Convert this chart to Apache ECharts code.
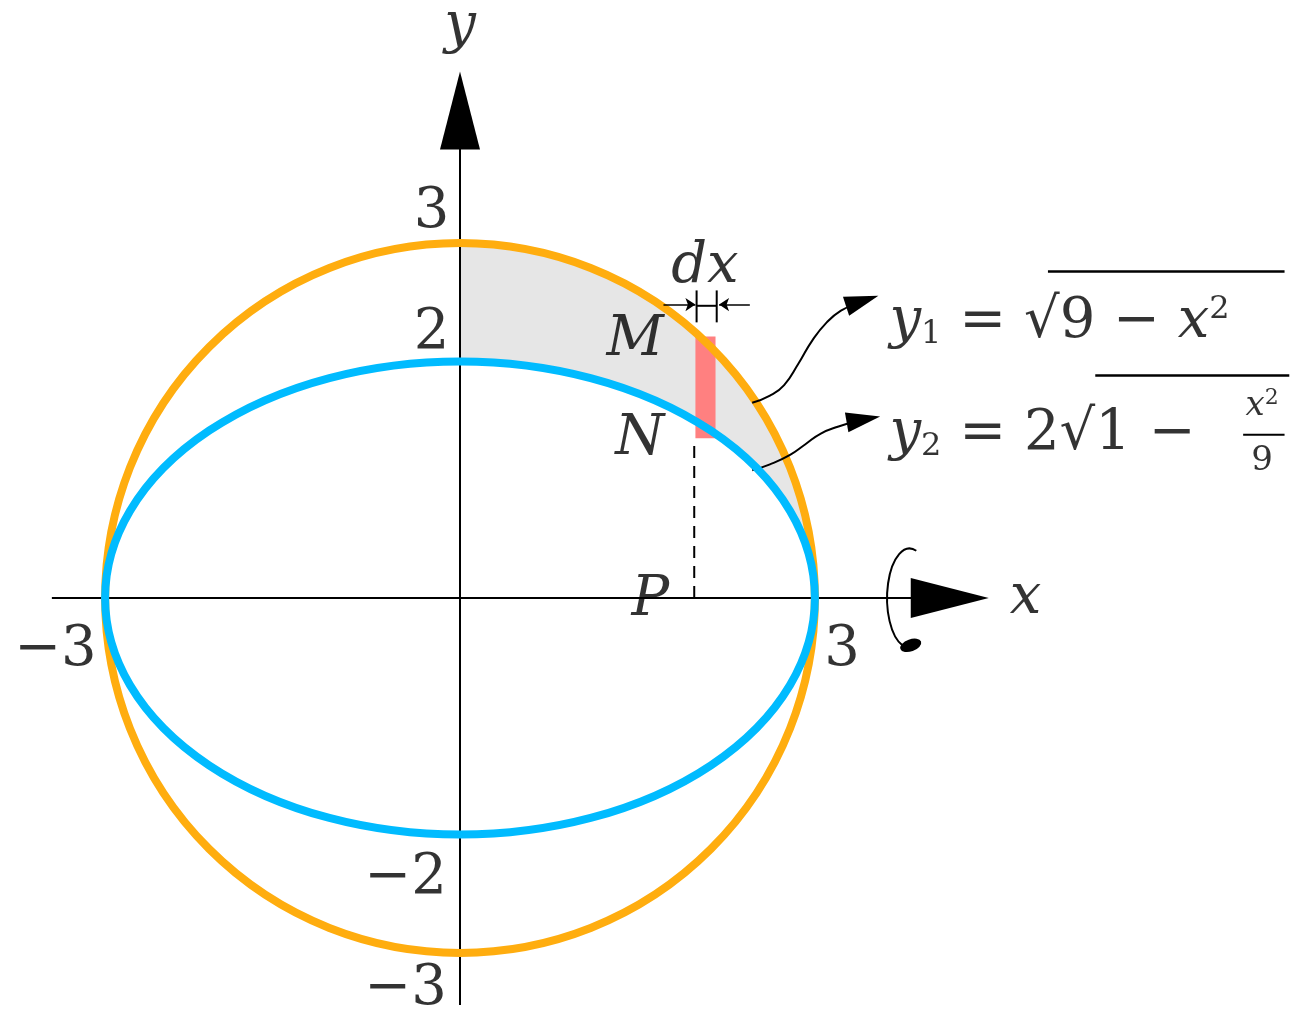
<!DOCTYPE html>
<html>
<head>
<meta charset="utf-8">
<script src="https://cdn.jsdelivr.net/npm/echarts@6/dist/echarts.min.js"></script>
<style>html,body{margin:0;padding:0;background:#fff}#main{width:1299px;height:1023px}</style>
</head>
<body>
<div id="main"></div>
<script>
"use strict";

// 曲线: [中心x, 中心y, 半轴a, 半轴b]
var circleY1 = [[0, 0, 3, 3]];
var ellipseY2 = [[0, 0, 3, 2]];
var rotArc = [[3.8, 0, 0.19, 0.42]];
// 阴影区 x 0..3
var shadeArea = [[0, 0, 3, 3, 2]];
// 微元条 [x1, yTop, x2, yBottom]
var stripBar = [[1.99, 2.21, 2.16, 1.35]];
// 线段 [x1,y1,x2,y2,线宽,虚线]
var segList = [
  [-3.45, 0, 4.0, 0, 2, 0],
  [0, -3.44, 0, 3.8, 2, 0],
  [1.98, 0, 1.98, 1.35, 2, 1],
  [2.0, 2.6, 2.0, 2.33, 2, 0],
  [2.17, 2.6, 2.17, 2.33, 2, 0],
  [2.0, 2.47, 2.17, 2.47, 2, 0]
];
var dxArrows = [
  [[1.72, 2.48], [1.99, 2.48]],
  [[2.45, 2.48], [2.19, 2.48]]
];
var pointer1 = [[2.47, 1.65], [2.62, 1.71], [2.74, 1.8], [2.86, 1.98], [2.98, 2.18], [3.1, 2.33], [3.22, 2.43], [3.34, 2.48]];
var pointer2 = [[2.47, 1.08], [2.62, 1.13], [2.79, 1.21], [2.92, 1.3], [3.05, 1.39], [3.2, 1.45], [3.34, 1.49]];
// 箭头 [x, y, 旋转, 宽, 高]
var arrowHeads = [[0, 4.12, 0, 40, 78], [4.14, 0, -90, 40, 78], [3.4, 2.51, -72, 20, 34], [3.41, 1.51, -80, 20, 34]];
// 文字标签 [x, y, 文本, 斜体]
var textLabels = [
  [-0.24, 3.26, "3", 0], [-0.24, 2.24, "2", 0],
  [-0.46, -2.37, "−2", 0], [-0.46, -3.31, "−3", 0],
  [-3.42, -0.44, "−3", 0], [3.23, -0.44, "3", 0],
  [0, 4.82, "y", 1], [4.78, 0, "x", 1],
  [2.07, 2.79, "dx", 1], [1.48, 2.18, "M", 1],
  [1.52, 1.34, "N", 1], [1.61, -0.02, "P", 1]
];
var formulaLabels = [[3.63, 2.33, "{i|y}{s|1}{n| = √9 − }{i|x}{p|2}"], [3.63, 1.38, "{i|y}{s|2}{n| = 2√1 − }"]];
var fracLabels = [[6.78, 1.62, "{i|x}{p|2}"], [6.78, 1.16, "{n|9}"]];
var overLines = [[4.97, 2.76, 6.97, 2.76, 2.5, 0], [5.37, 1.88, 7.01, 1.88, 2.5, 0], [6.62, 1.38, 6.97, 1.38, 2, 0]];

var k = 118.3;
var SERIF = "DejaVu Serif";

function ellipseRender(color, width) {
  return function (params, api) {
    var c = api.coord([api.value(0), api.value(1)]);
    var s = api.size([api.value(2), api.value(3)]);
    var rx = s[0], ry = s[1];
    var d = "M" + (c[0] - rx) + " " + c[1] + " A" + rx + " " + ry + " 0 1 0 " + (c[0] + rx) + " " + c[1] +
      " A" + rx + " " + ry + " 0 1 0 " + (c[0] - rx) + " " + c[1] + " Z";
    return {type: "path", shape: {pathData: d}, style: {fill: "none", stroke: color, lineWidth: width}};
  };
}

function segRender(params, api) {
  var p1 = api.coord([api.value(0), api.value(1)]);
  var p2 = api.coord([api.value(2), api.value(3)]);
  return {type: "line", shape: {x1: p1[0], y1: p1[1], x2: p2[0], y2: p2[1]},
    style: {stroke: "#000", lineWidth: api.value(4), lineDash: api.value(5) ? [12, 8] : null}};
}

var rich = {
  i: {fontFamily: SERIF, fontStyle: "italic", fontSize: 56, color: "#000"},
  n: {fontFamily: SERIF, fontSize: 56, color: "#000"},
  s: {fontFamily: SERIF, fontSize: 32, color: "#000", padding: [24, 0, 0, 0]},
  p: {fontFamily: SERIF, fontSize: 32, color: "#000", padding: [0, 0, 26, 0]}
};

var option = {
  animation: false,
  grid: {left: 0, right: 0, top: 0, bottom: 0},
  xAxis: {type: "value", min: -460 / k, max: (1299 - 460) / k, show: false},
  yAxis: {type: "value", min: -(1023 - 598) / k, max: 598 / k, show: false},
  series: [
    {type: "custom", z: 1, data: shadeArea, renderItem: function (params, api) {
      var c = api.coord([api.value(0), api.value(1)]);
      var s1 = api.size([api.value(2), api.value(3)]);
      var s2 = api.size([api.value(2), api.value(4)]);
      var d = "M" + c[0] + " " + (c[1] - s1[1]) + " A" + s1[0] + " " + s1[1] + " 0 0 1 " + (c[0] + s1[0]) + " " + c[1] +
        " A" + s2[0] + " " + s2[1] + " 0 0 0 " + c[0] + " " + (c[1] - s2[1]) + " Z";
      return {type: "path", shape: {pathData: d}, style: {fill: "#e6e6e6", stroke: null}};
    }},
    {type: "custom", z: 2, data: segList, renderItem: segRender},
    {type: "custom", z: 3, data: stripBar, renderItem: function (params, api) {
      var a = api.coord([api.value(0), api.value(1)]);
      var b = api.coord([api.value(2), api.value(3)]);
      return {type: "rect", shape: {x: a[0], y: a[1], width: b[0] - a[0], height: b[1] - a[1]}, style: {fill: "#ff8080"}};
    }},
    {type: "custom", z: 4, data: circleY1, renderItem: ellipseRender("#ffad0f", 8)},
    {type: "custom", z: 5, data: ellipseY2, renderItem: ellipseRender("#00bbff", 8)},
    {type: "custom", z: 4, data: rotArc, renderItem: function (params, api) {
      var c = api.coord([api.value(0), api.value(1)]);
      var s = api.size([api.value(2), api.value(3)]);
      var d = "M" + (c[0] + s[0] * 0.3) + " " + (c[1] - s[1] * 0.95) + " A" + s[0] + " " + s[1] + " 0 1 0 " +
        (c[0] + s[0] * 0.4) + " " + (c[1] + s[1] * 0.92);
      return {type: "path", shape: {pathData: d}, style: {fill: "none", stroke: "#000", lineWidth: 2}};
    }},
    {type: "custom", z: 4, data: overLines, renderItem: segRender},
    {type: "lines", coordinateSystem: "cartesian2d", z: 4, symbol: ["none", "arrow"], symbolSize: 10,
      lineStyle: {color: "#000", width: 1.5, opacity: 1},
      data: dxArrows.map(function (c) { return {coords: c}; })},
    {type: "line", z: 4, smooth: true, symbol: "none", lineStyle: {color: "#000", width: 2}, data: pointer1},
    {type: "line", z: 4, smooth: true, symbol: "none", lineStyle: {color: "#000", width: 2}, data: pointer2},
    {type: "scatter", z: 6, symbol: "triangle",
      symbolSize: function (v) { return [v[3], v[4]]; },
      itemStyle: {color: "#000", opacity: 1}, silent: true,
      symbolRotate: function (v) { return v[2]; }, data: arrowHeads},
    {type: "scatter", z: 6, symbol: "circle", symbolSize: [22, 12], symbolRotate: 20,
      itemStyle: {color: "#000", opacity: 1}, data: [[3.81, -0.4]]},
    {type: "scatter", z: 7, symbolSize: 0, data: textLabels,
      label: {show: true, position: "inside", color: "#000", fontFamily: SERIF, formatter: function (p) {
        return p.value[3] ? "{i|" + p.value[2] + "}" : "{n|" + p.value[2] + "}";
      }, rich: rich}},
    {type: "scatter", z: 7, symbolSize: 0, data: formulaLabels,
      label: {show: true, position: "right", distance: 0, color: "#000", fontFamily: SERIF,
        formatter: function (p) { return p.value[2]; }, rich: rich}},
    {type: "scatter", z: 7, symbolSize: 0, data: fracLabels,
      label: {show: true, position: "inside", color: "#000", fontFamily: SERIF, formatter: function (p) { return p.value[2]; },
        rich: {i: {fontFamily: SERIF, fontStyle: "italic", fontSize: 34, color: "#000"},
          p: {fontFamily: SERIF, fontSize: 22, color: "#000", padding: [0, 0, 16, 0]},
          n: {fontFamily: SERIF, fontSize: 34, color: "#000"}}}}
  ]
};

var myChart = echarts.init(document.getElementById("main"));
myChart.setOption(option);
</script>
</body>
</html>
